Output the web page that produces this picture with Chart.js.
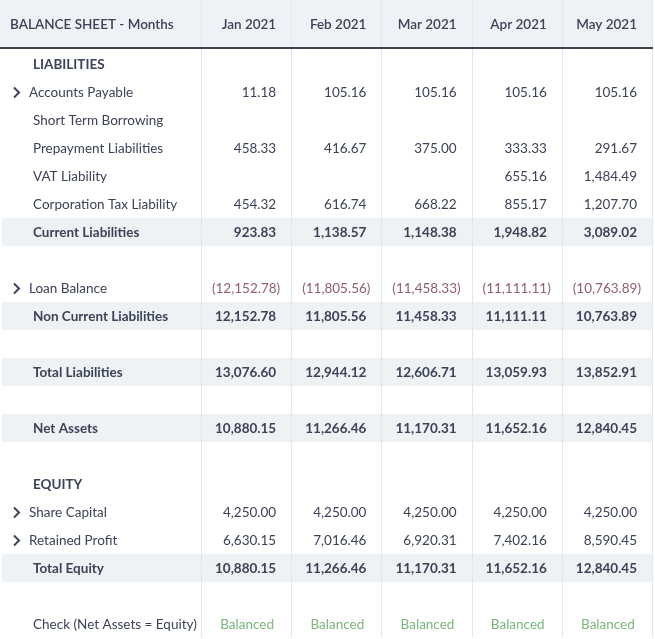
<!DOCTYPE html>
<html><head><meta charset="utf-8">
<script src="https://cdn.jsdelivr.net/npm/chart.js@4"></script>
<style>html,body{margin:0;padding:0;background:#fff}#w{width:655px;height:639px}</style>
</head><body><div id="w"><canvas id="c"></canvas></div>
<script>
const months = ["Jan 2021","Feb 2021","Mar 2021","Apr 2021","May 2021"];
const rowLabels = ["LIABILITIES","Accounts Payable","Short Term Borrowing","Prepayment Liabilities","VAT Liability","Corporation Tax Liability","Current Liabilities","","Loan Balance","Non Current Liabilities","","Total Liabilities","","Net Assets","","EQUITY","Share Capital","Retained Profit","Total Equity","","Check (Net Assets = Equity)"];
const rowKinds = ["section","expand","item","item","item","item","total","blank","expand","total","blank","total","blank","total","blank","section","expand","expand","total","blank","check"];
const accountsPayable = [11.18,105.16,105.16,105.16,105.16];
const shortTermBorrowing = [null,null,null,null,null];
const prepaymentLiabilities = [458.33,416.67,375.00,333.33,291.67];
const vatLiability = [null,null,null,655.16,1484.49];
const corporationTax = [454.32,616.74,668.22,855.17,1207.70];
const currentLiabilities = [923.83,1138.57,1148.38,1948.82,3089.02];
const loanBalance = [-12152.78,-11805.56,-11458.33,-11111.11,-10763.89];
const nonCurrentLiabilities = [12152.78,11805.56,11458.33,11111.11,10763.89];
const totalLiabilities = [13076.60,12944.12,12606.71,13059.93,13852.91];
const netAssets = [10880.15,11266.46,11170.31,11652.16,12840.45];
const shareCapital = [4250.00,4250.00,4250.00,4250.00,4250.00];
const retainedProfit = [6630.15,7016.46,6920.31,7402.16,8590.45];
const totalEquity = [10880.15,11266.46,11170.31,11652.16,12840.45];
const checkValues = ["Balanced","Balanced","Balanced","Balanced","Balanced"];
const rowValues = [null,accountsPayable,shortTermBorrowing,prepaymentLiabilities,vatLiability,corporationTax,currentLiabilities,null,loanBalance,nonCurrentLiabilities,null,totalLiabilities,null,netAssets,null,null,shareCapital,retainedProfit,totalEquity,null,checkValues];

const FONT = "Lato, 'Open Sans', sans-serif";
const TXT = "#3c4257";
const fmt = v => Math.abs(v).toLocaleString("en-US",{minimumFractionDigits:2,maximumFractionDigits:2});

const tablePlugin = {
  id:"table",
  beforeDraw(chart){
    const {ctx, chartArea:a, scales:{x,y}} = chart;
    const colW = (a.right-a.left) / months.length;
    const rowH = (a.bottom-a.top) / rowLabels.length;
    ctx.save();
    ctx.fillStyle="#eef1f5"; ctx.fillRect(0,0,a.right,a.top-3);
    ctx.fillStyle="#3d4250"; ctx.fillRect(0,a.top-3,a.right,2);
    rowKinds.forEach((k,i)=>{
      if(k==="total"){const cy=y.getPixelForValue(i);ctx.fillStyle="#eff2f5";ctx.fillRect(2,cy-rowH/2,a.right-2,rowH);}
    });
    ctx.fillStyle="#e2e7ee";
    for(let j=0;j<=months.length;j++){
      const lx=Math.round(a.left+j*colW)-1;
      ctx.fillRect(lx,0,1,a.top-3);
      ctx.fillRect(lx,a.top-1,1,a.bottom-a.top+1);
    }
    ctx.textBaseline="middle";
    const hy=(a.top-3)/2+1;
    ctx.fillStyle=TXT; ctx.font="600 13.5px "+FONT; ctx.textAlign="left";
    ctx.fillText("BALANCE SHEET - Months",10,hy);
    ctx.textAlign="right";
    months.forEach((m,j)=>ctx.fillText(m,x.getPixelForValue(j)+colW/2-16,hy));
    rowLabels.forEach((lab,i)=>{
      const k=rowKinds[i]; const cy=y.getPixelForValue(i)+0.5;
      ctx.textAlign="left"; ctx.fillStyle=TXT;
      if(k==="section"||k==="total"){ctx.font="bold 13.5px "+FONT;ctx.fillText(lab,33,cy);}
      else if(k==="expand"){
        ctx.font="13.5px "+FONT;ctx.fillText(lab,29,cy);
        ctx.strokeStyle=TXT;ctx.lineWidth=2;ctx.beginPath();ctx.moveTo(14,cy-5);ctx.lineTo(19,cy);ctx.lineTo(14,cy+5);ctx.stroke();
      } else if(lab){ctx.font="13.5px "+FONT;ctx.fillText(lab,33,cy);}
      const vals=rowValues[i]; if(!vals) return;
      vals.forEach((v,j)=>{
        if(v===null) return;
        const cx=x.getPixelForValue(j), r=cx+colW/2-16;
        ctx.font=(k==="total"?"bold ":"")+"13.5px "+FONT;
        if(typeof v==="string"){ctx.fillStyle="#7db57b";ctx.textAlign="center";ctx.fillText(v,cx,cy);}
        else if(v<0){ctx.fillStyle="#8f5f6e";ctx.textAlign="right";ctx.fillText("("+fmt(v)+")",r+4,cy);}
        else {ctx.fillStyle=TXT;ctx.textAlign="right";ctx.fillText(fmt(v),r,cy);}
      });
    });
    ctx.restore();
  }
};

new Chart(document.getElementById("c"),{
  type:"bar",
  data:{labels:months,datasets:[{data:[]}]},
  options:{
    responsive:true,maintainAspectRatio:false,animation:false,
    layout:{padding:{left:202,right:2,top:50,bottom:1}},
    plugins:{legend:{display:false},tooltip:{enabled:false}},
    scales:{
      x:{type:"category",labels:months,display:false},
      y:{type:"category",labels:rowLabels.map((l,i)=>i+":"+l),offset:true,display:false}
    }
  },
  plugins:[tablePlugin]
});
</script></body></html>
